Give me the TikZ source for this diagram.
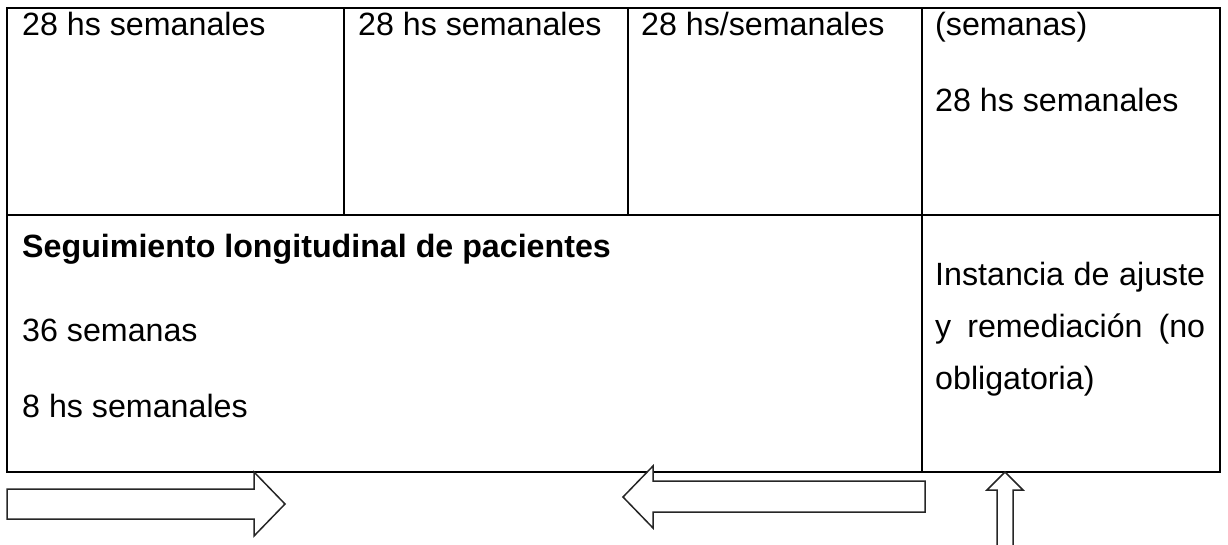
\documentclass[tikz,border=0pt]{standalone}
\usepackage{fontspec}
\setmainfont{Liberation Sans}
\begin{document}
\begin{tikzpicture}[x=1pt,y=-1pt,
  grid/.style={line width=2.6pt, line cap=rect},
  blockarrow/.style={draw=black!85, line width=1.5pt, fill=white, line join=miter},
  txt/.style={anchor=base west, inner sep=0pt, font=\fontsize{32.2}{36}\selectfont},
  btxt/.style={txt, font=\fontsize{32.2}{36}\selectfont\bfseries}]
\useasboundingbox (0,0) rectangle (1228,545);
% table
\draw[grid] (7,8) rectangle (1220,472);
\draw[grid] (7,215) -- (1220,215);
\draw[grid] (344,8) -- (344,215);
\draw[grid] (628,8) -- (628,215);
\draw[grid] (922,8) -- (922,472);
% texts
\node[txt] (c1) at (22,36) {28 hs semanales};
\node[txt] (c2) at (358,36) {28 hs semanales};
\node[txt] (c3) at (641,36) {28 hs/semanales};
\node[txt] (c4a) at (935,36) {(semanas)};
\node[txt] (c4b) at (935,112) {28 hs semanales};
\node[btxt] (s1) at (22,258) {Seguimiento longitudinal de pacientes};
\node[txt] (s2) at (22,341) {36 semanas};
\node[txt] (s3) at (22,417) {8 hs semanales};
\node[txt] (r1) at (935,285) {\makebox[270pt][s]{Instancia de ajuste}};
\node[txt] (r2) at (935,337) {\makebox[270pt][s]{y remediación (no}};
\node[txt] (r3) at (935,389) {obligatoria)};
% block arrows
\draw[blockarrow] (7,489) -- (254,489) -- (254,472) -- (285,504) -- (254,536) -- (254,519) -- (7,519) -- cycle;
\draw[blockarrow] (925,481) -- (653,481) -- (653,466) -- (623,497) -- (653,528) -- (653,512) -- (925,512) -- cycle;
\draw[blockarrow] (997,548) -- (997,490) -- (987,490) -- (1005,472) -- (1023,490) -- (1013,490) -- (1013,548) -- cycle;
\end{tikzpicture}
\end{document}
